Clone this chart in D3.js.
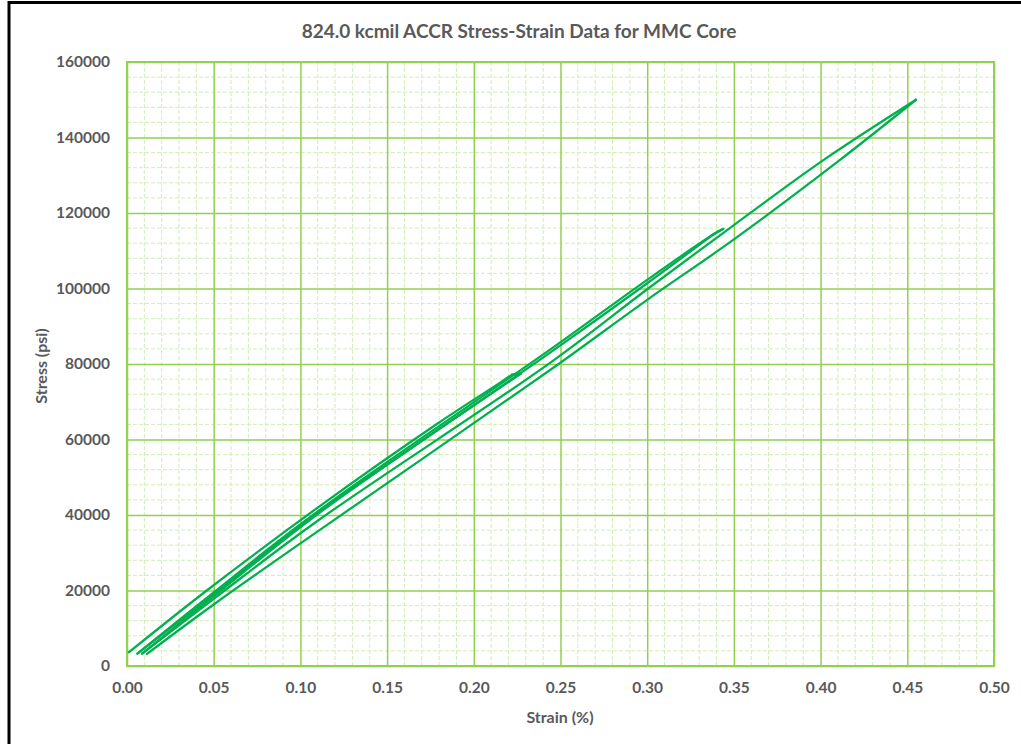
<!DOCTYPE html>
<html>
<head>
<meta charset="utf-8">
<script src="https://cdn.jsdelivr.net/npm/d3@7"></script>
<style>
  body { margin: 0; background: #fff; }
  svg text { font-family: Lato, "Open Sans", sans-serif; font-weight: bold; fill: #595959; }
</style>
</head>
<body>
<svg id="chart" width="1021" height="744"></svg>
<script>
// test path: [strain %, stress psi]
const load1 = [[0.001, 3600], [0.046, 20000], [0.111, 42300], [0.18, 64500], [0.215, 75000], [0.222, 77200]];
const hold1 = [[0.222, 77200], [0.226, 77600], [0.224, 76800], [0.227, 77400]];
const unload1 = [[0.227, 77400], [0.16, 56500], [0.10, 37500], [0.05, 19500], [0.006, 3300]];
const load2 = [[0.006, 3300], [0.05, 19000], [0.111, 41300], [0.244, 83800], [0.30, 102300], [0.338, 114300], [0.343, 115600]];
const hold2 = [[0.343, 115600], [0.337, 114000], [0.344, 115800], [0.339, 114600]];
const unload2 = [[0.339, 114600], [0.30, 101400], [0.244, 83000], [0.111, 40600], [0.05, 18500], [0.0087, 3300]];
const load3 = [[0.0087, 3300], [0.05, 17800], [0.111, 38800], [0.244, 80300], [0.30, 99800], [0.35, 116800], [0.4016, 134000], [0.455, 150000]];
const unload3 = [[0.455, 150000], [0.411, 134000], [0.35, 113000], [0.30, 97000], [0.244, 78400], [0.111, 36000], [0.05, 16300], [0.0115, 3200]];

const xTicks = [0, 0.05, 0.10, 0.15, 0.20, 0.25, 0.30, 0.35, 0.40, 0.45, 0.50];
const yTicks = [0, 20000, 40000, 60000, 80000, 100000, 120000, 140000, 160000];

const title = "824.0 kcmil ACCR Stress-Strain Data for MMC Core";
const xTitle = "Strain (%)";
const yTitle = "Stress (psi)";

const plotL = 127, plotR = 994, plotT = 62, plotB = 666;
const svg = d3.select("#chart");

const x = d3.scaleLinear().domain([0, 0.5]).range([plotL, plotR]);
const y = d3.scaleLinear().domain([0, 160000]).range([plotB, plotT]);

// outer frame (only top and left edges show)
svg.append("line").attr("x1", 9).attr("x2", 1021).attr("y1", 2.5).attr("y2", 2.5)
    .attr("stroke", "#000").attr("stroke-width", 3);
svg.append("line").attr("x1", 9).attr("x2", 9).attr("y1", 1).attr("y2", 744)
    .attr("stroke", "#000").attr("stroke-width", 3);

// minor grid
const grid = svg.append("g");
grid.selectAll("line.mx")
    .data(d3.range(0.01, 0.5, 0.01).filter(v => Math.round(v * 100) % 5 != 0))
    .enter().append("line")
    .attr("x1", d => x(d)).attr("x2", d => x(d))
    .attr("y1", plotT).attr("y2", plotB)
    .attr("stroke", "#d3ecb5").attr("stroke-width", 1).attr("stroke-dasharray", "4,2");
grid.selectAll("line.my")
    .data(d3.range(4000, 160000, 4000).filter(v => v % 20000 != 0))
    .enter().append("line")
    .attr("x1", plotL).attr("x2", plotR)
    .attr("y1", d => y(d)).attr("y2", d => y(d))
    .attr("stroke", "#d3ecb5").attr("stroke-width", 1).attr("stroke-dasharray", "4,2");

// major grid through the axes
svg.append("g")
    .attr("transform", "translate(0," + plotB + ")")
    .call(d3.axisBottom(x).tickValues(xTicks).tickSize(-(plotB - plotT)).tickFormat(d3.format(".2f")).tickPadding(16))
    .call(g => g.select(".domain").remove())
    .call(g => g.selectAll(".tick line").attr("stroke", "#92d050").attr("stroke-width", 1.5))
    .call(g => g.selectAll(".tick text").attr("font-size", 15.5).attr("font-family", null));

svg.append("g")
    .attr("transform", "translate(" + plotL + ",0)")
    .call(d3.axisLeft(y).tickValues(yTicks).tickSize(-(plotR - plotL)).tickFormat(d3.format("d")).tickPadding(17))
    .call(g => g.select(".domain").remove())
    .call(g => g.selectAll(".tick line").attr("stroke", "#92d050").attr("stroke-width", 1.5))
    .call(g => g.selectAll(".tick text").attr("font-size", 15.5).attr("font-family", null));

svg.append("rect")
    .attr("x", plotL).attr("y", plotT).attr("width", plotR - plotL).attr("height", plotB - plotT)
    .attr("fill", "none").attr("stroke", "#92d050").attr("stroke-width", 2);

// data, one path per leg so the smoothing doesn't overshoot at the turns
const legs = [load1, unload1, load2, unload2, load3, unload3];
const holds = [hold1, hold2];
const smooth = d3.line().x(d => x(d[0])).y(d => y(d[1])).curve(d3.curveCatmullRom);
const straight = d3.line().x(d => x(d[0])).y(d => y(d[1]));

const data = svg.append("g")
    .attr("fill", "none")
    .attr("stroke", "#00b050")
    .attr("stroke-width", 2.25)
    .attr("stroke-linejoin", "round")
    .attr("stroke-linecap", "round");
data.selectAll("path.leg").data(legs).enter().append("path")
    .attr("d", smooth);
data.selectAll("path.hold").data(holds).enter().append("path")
    .attr("d", straight);

// titles
svg.append("text").attr("x", 519).attr("y", 38).attr("text-anchor", "middle")
    .attr("font-size", 19).text(title);
svg.append("text").attr("x", 560).attr("y", 723).attr("text-anchor", "middle")
    .attr("font-size", 16).text(xTitle);
svg.append("text").attr("transform", "translate(47,366) rotate(-90)").attr("text-anchor", "middle")
    .attr("font-size", 16).text(yTitle);
</script>
</body>
</html>
